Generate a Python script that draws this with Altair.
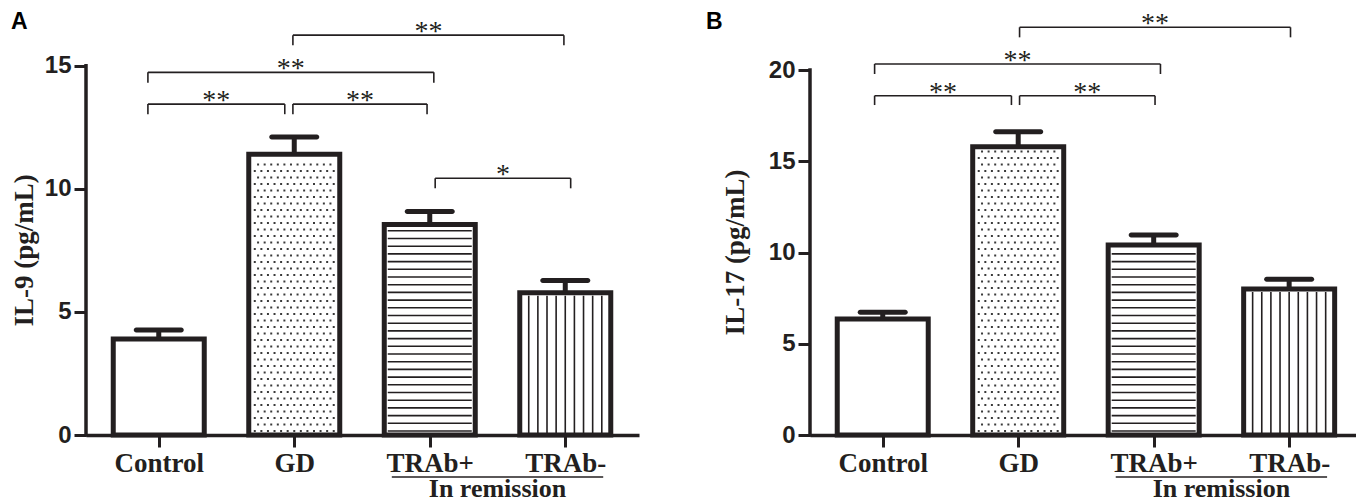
import json
import altair as alt
import numpy as np
import pandas as pd

# ---------------- data ----------------
groups = ["Control", "GD", "TRAb+", "TRAb-"]
fills = ["none", "dots", "hlines", "vlines"]

il9_mean = [3.9, 11.4, 8.55, 5.78]
il9_sem = [0.36, 0.70, 0.53, 0.50]
il17_mean = [6.36, 15.8, 10.41, 8.0]
il17_sem = [0.36, 0.82, 0.55, 0.53]

il9_ticks = [0, 5, 10, 15]
il17_ticks = [0, 5, 10, 15, 20]

# significance brackets (x in group positions, y in data units)
il9_sig_x1 = [0.92, 1.99, 0.92, 1.99, 3.04]
il9_sig_x2 = [1.93, 2.98, 3.03, 3.99, 4.04]
il9_sig_y = [13.44, 13.44, 14.73, 16.24, 10.43]
il9_sig_leg = [13.03, 13.03, 14.31, 15.83, 10.02]
il9_sig_lab = ["**", "**", "**", "**", "*"]

il17_sig_x1 = [0.94, 2.01, 0.94, 2.01]
il17_sig_x2 = [1.95, 3.01, 3.05, 4.01]
il17_sig_y = [18.59, 18.59, 20.33, 22.34]
il17_sig_leg = [18.08, 18.08, 19.78, 21.79]
il17_sig_lab = ["**", "**", "**", "**"]

remission_label = "In remission"
remission_span = [2.72, 4.28]

# ---------------- style ----------------
INK = "#231f20"
SERIF = "Liberation Serif"
SANS = "Liberation Sans"
STEP = 138.0   # px per group
H = 425


def panel(letter, ytitle, means, sems, ticks, ymax, xmax, width,
          sx1, sx2, sy, sleg, slab, letter_x, title_x):
    ppu = H / ymax
    df = pd.DataFrame({"group": groups, "pos": np.arange(1, len(groups) + 1),
                       "mean": means, "sem": sems})
    xs = alt.Scale(domain=[0.5, xmax], nice=False, zero=False)
    ys = alt.Scale(domain=[0, ymax], nice=False)
    xax = alt.Axis(values=list(range(1, len(groups) + 1)),
                   labelExpr=json.dumps(groups) + "[datum.value - 1]",
                   title=None, grid=False, domainWidth=3.5, domainColor=INK,
                   tickColor=INK, tickSize=12, tickWidth=3,
                   labelFont=SERIF, labelFontSize=27, labelFontWeight="bold",
                   labelColor=INK, labelPadding=3, labelOverlap=False,
                   labelFlush=False, labelBound=False)
    yax = alt.Axis(values=ticks, title=None, grid=False, domain=False,
                   tickColor=INK, tickSize=12, tickWidth=3,
                   labelFont=SANS, labelFontSize=24, labelFontWeight="bold",
                   labelColor=INK, labelPadding=3)

    def X(f):
        return alt.X(f, scale=xs, axis=xax)

    def Y(f):
        return alt.Y(f, scale=ys, axis=yax)

    base = alt.Chart(df)
    bars = base.mark_bar(width=91, fill="white", stroke=INK, strokeWidth=5).encode(
        X("pos:Q"), Y("mean:Q"))

    dots, hl, vl = [], [], []
    for i, (m, kind) in enumerate(zip(means, fills)):
        pos = i + 1
        top_px = m * ppu - 4
        if kind == "dots":
            for r, ypx in enumerate(np.arange(4, top_px, 6.5)):
                shift = 0 if r % 2 == 0 else 3.35
                for xpx in np.arange(-40.2 + shift, 41, 6.7):
                    dots.append({"x": pos + xpx / STEP, "y": ypx / ppu})
        elif kind == "hlines":
            for ypx in np.arange(4, top_px, 7.7):
                hl.append({"x": pos - 0.31, "x2": pos + 0.31, "y": ypx / ppu})
        elif kind == "vlines":
            for k in range(-4, 5):
                vl.append({"x": pos + k * 9.3 / STEP, "y": 0, "y2": m - 3 / ppu})

    dot_layer = alt.Chart(pd.DataFrame(dots)).mark_square(size=4, color="#3a3a3a", opacity=1).encode(
        X("x:Q"), Y("y:Q"))
    hl_layer = alt.Chart(pd.DataFrame(hl)).mark_rule(color=INK, strokeWidth=1.6).encode(
        X("x:Q"), x2="x2:Q", y=Y("y:Q"))
    vl_layer = alt.Chart(pd.DataFrame(vl)).mark_rule(color=INK, strokeWidth=1.6).encode(
        X("x:Q"), Y("y:Q"), y2="y2:Q")

    stem = base.transform_calculate(hi="datum.mean + datum.sem").mark_rule(
        color=INK, strokeWidth=5).encode(X("pos:Q"), Y("mean:Q"), y2="hi:Q")
    cap = base.transform_calculate(hi="datum.mean + datum.sem").mark_tick(
        orient="horizontal", size=50, thickness=5, color=INK, opacity=1,
        cornerRadius=2.5).encode(X("pos:Q"), Y("hi:Q"))

    axis_line = alt.Chart(pd.DataFrame({"lo": [ticks[0]], "hi": [ticks[-1]]})).mark_rule(
        color=INK, strokeWidth=3.5, strokeCap="square").encode(
        x=alt.value(0), y=Y("lo:Q"), y2="hi:Q")

    segs = []
    for a, b, y, leg in zip(sx1, sx2, sy, sleg):
        segs.append({"x": a, "x2": b, "y": y, "y2": y})
        segs.append({"x": a, "x2": a, "y": leg, "y2": y})
        segs.append({"x": b, "x2": b, "y": leg, "y2": y})
    brackets = alt.Chart(pd.DataFrame(segs)).mark_rule(color=INK, strokeWidth=1.6).encode(
        X("x:Q"), x2="x2:Q", y=Y("y:Q"), y2="y2:Q")
    stars_df = pd.DataFrame({"x": [(a + b) / 2 for a, b in zip(sx1, sx2)], "y": sy, "t": slab})
    stars = alt.Chart(stars_df).mark_text(font=SERIF, fontSize=28, color=INK, dy=5,
                                          baseline="alphabetic", align="center").encode(
        X("x:Q"), Y("y:Q"), text="t:N")

    letter_l = alt.Chart(pd.DataFrame({"t": [letter]})).mark_text(
        font=SANS, fontSize=23, fontWeight="bold", align="left", baseline="alphabetic",
        color="black").encode(x=alt.value(letter_x), y=alt.value(18.5), text="t:N")
    title_l = alt.Chart(pd.DataFrame({"t": [ytitle], "c": [ticks[-1] / 2]})).mark_text(
        font=SERIF, fontSize=27, fontWeight="bold", angle=270, align="center",
        baseline="alphabetic", color=INK).encode(x=alt.value(title_x), y=Y("c:Q"), text="t:N")

    rem_line = alt.Chart(pd.DataFrame({"a": [remission_span[0]], "b": [remission_span[1]]})).mark_rule(
        color=INK, strokeWidth=1.5).encode(X("a:Q"), x2="b:Q", y=alt.value(H + 42))
    rem_text = alt.Chart(pd.DataFrame({"t": [remission_label], "c": [sum(remission_span) / 2]})).mark_text(
        font=SERIF, fontSize=26, fontWeight="bold", align="center", baseline="alphabetic",
        color=INK).encode(X("c:Q"), y=alt.value(H + 61.5), text="t:N")

    return alt.layer(bars, dot_layer, hl_layer, vl_layer, stem, cap, axis_line,
                     brackets, stars, letter_l, title_l, rem_line, rem_text).properties(
        width=width, height=H)


chart_a = panel("A", "IL-9 (pg/mL)", il9_mean, il9_sem, il9_ticks, H / 24.62, 0.5 + 553 / STEP, 553,
                il9_sig_x1, il9_sig_x2, il9_sig_y, il9_sig_leg, il9_sig_lab, -75, -53)
chart_b = panel("B", "IL-17 (pg/mL)", il17_mean, il17_sem, il17_ticks, H / 18.25, 0.5 + 546 / STEP, 546,
                il17_sig_x1, il17_sig_x2, il17_sig_y, il17_sig_leg, il17_sig_lab, -104, -66)

chart = alt.hconcat(chart_a, chart_b, spacing=67).properties(
    padding={"left": 2, "top": 2, "right": 0, "bottom": 0}, background="white"
).configure_view(stroke=None)

chart.save("out.html", embed_options={"renderer": "svg", "actions": False})
